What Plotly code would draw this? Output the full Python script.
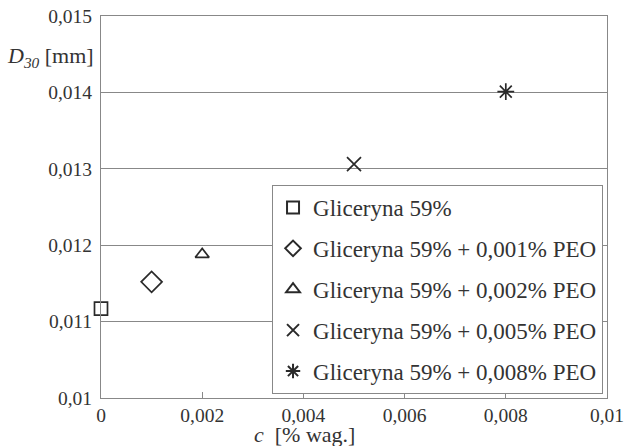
import plotly.graph_objects as go

names = ["Gliceryna 59%", "Gliceryna 59% + 0,001% PEO", "Gliceryna 59% + 0,002% PEO",
         "Gliceryna 59% + 0,005% PEO", "Gliceryna 59% + 0,008% PEO"]
c_vals = [0.0, 0.001, 0.002, 0.005, 0.008]
d30_vals = [0.01117, 0.01152, 0.01188, 0.01306, 0.01401]
symbols = ["square-open", "diamond-open", "triangle-up-open", "x-thin-open", "asterisk-open"]
sizes = [13, 16, 12, 14, 14]

x_tickvals = [0, 0.002, 0.004, 0.006, 0.008, 0.01]
x_ticktext = ["0", "0,002", "0,004", "0,006", "0,008", "0,01"]
y_tickvals = [0.01, 0.011, 0.012, 0.013, 0.014, 0.015]
y_ticktext = ["0,01", "0,011", "0,012", "0,013", "0,014", "0,015"]

fig = go.Figure()
for i in range(len(names)):
    fig.add_trace(go.Scatter(
        x=[c_vals[i]], y=[d30_vals[i]], mode="markers", name=names[i],
        legendgroup=f"g{i}", cliponaxis=False,
        marker=dict(symbol=symbols[i], size=sizes[i], color="#2a2a2a",
                    line=dict(width=1.7, color="#2a2a2a"))))

serif = "Liberation Serif"
fig.update_layout(
    width=625, height=446,
    margin=dict(l=101, r=18, t=16, b=48, autoexpand=False),
    paper_bgcolor="white", plot_bgcolor="white",
    font=dict(family=serif, size=19.5, color="#333333"),
    showlegend=True,
    legend=dict(x=0.338, y=0.5576, xanchor="left", yanchor="top",
                bordercolor="#888888", borderwidth=1, bgcolor="white",
                font=dict(family=serif, size=23, color="#333333"),
                tracegroupgap=8, traceorder="grouped", itemwidth=30,
                itemsizing="constant"),
    xaxis=dict(range=[0, 0.01], tickvals=x_tickvals, ticktext=x_ticktext,
               showgrid=False, zeroline=False, showline=True, mirror=True,
               linecolor="#888888", linewidth=1, ticks="inside", ticklen=6,
               tickcolor="#888888", tickfont=dict(family=serif, size=19.5),
               automargin=False),
    yaxis=dict(range=[0.01, 0.015], tickvals=y_tickvals, ticktext=y_ticktext,
               showgrid=True, gridcolor="#888888", gridwidth=1, zeroline=False,
               showline=True, mirror=True, linecolor="#888888", linewidth=1,
               ticks="", tickfont=dict(family=serif, size=19.5), ticklabelstandoff=4,
               automargin=False),
    annotations=[
        dict(text="<i>D</i><sub><i>30</i></sub> [mm]", xref="paper", yref="paper",
             x=-0.009, y=0.893, xanchor="right", yanchor="middle", showarrow=False,
             font=dict(family=serif, size=22, color="#333333")),
        dict(text="<i>c</i>  [% wag.]", xref="paper", yref="paper",
             x=0.403, y=-0.095, xanchor="center", yanchor="middle", showarrow=False,
             font=dict(family=serif, size=22, color="#333333")),
    ],
)
fig.write_html("out.html", config={"displayModeBar": False},
               post_script="document.body.style.margin='0';")
